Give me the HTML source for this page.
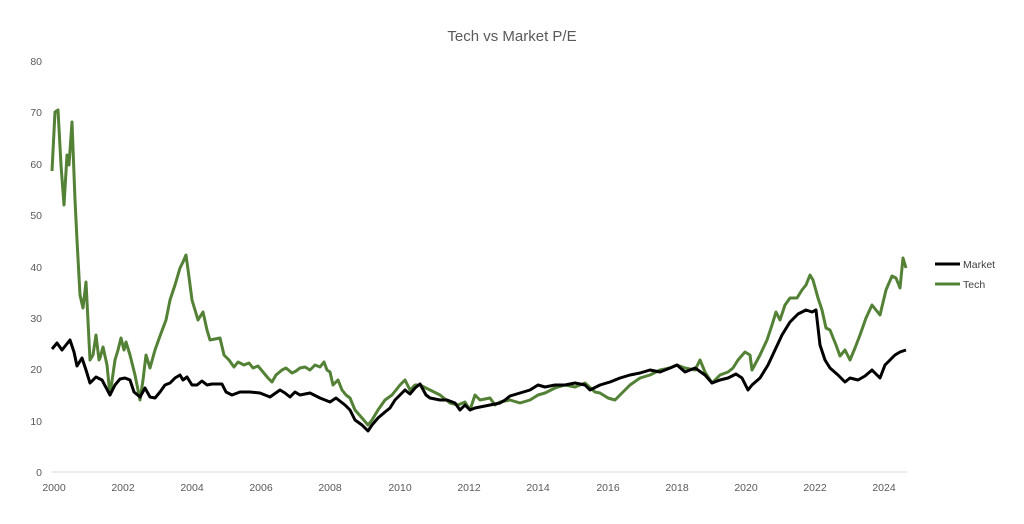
<!DOCTYPE html>
<html><head><meta charset="utf-8"><style>
body{margin:0;background:#fff;}
svg{display:block;font-family:"Liberation Sans",sans-serif;}
</style></head><body>
<svg width="1024" height="524" viewBox="0 0 1024 524">
<text x="512" y="41" text-anchor="middle" font-size="15" fill="#595959">Tech vs Market P/E</text>
<g font-size="10.5" fill="#595959" text-anchor="end">
<text x="42" y="476">0</text><text x="42" y="425">10</text><text x="42" y="373">20</text><text x="42" y="322">30</text>
<text x="42" y="271">40</text><text x="42" y="219">50</text><text x="42" y="168">60</text><text x="42" y="116">70</text><text x="42" y="65">80</text>
</g>
<line x1="52" y1="472" x2="907" y2="472" stroke="#d9d9d9" stroke-width="1"/>
<g font-size="10.5" fill="#595959" text-anchor="middle">
<text x="54" y="491">2000</text><text x="123" y="491">2002</text><text x="192" y="491">2004</text><text x="261" y="491">2006</text>
<text x="330" y="491">2008</text><text x="400" y="491">2010</text><text x="469" y="491">2012</text><text x="538" y="491">2014</text>
<text x="608" y="491">2016</text><text x="677" y="491">2018</text><text x="746" y="491">2020</text><text x="815" y="491">2022</text><text x="884" y="491">2024</text>
</g>
<polyline fill="none" stroke="#538135" stroke-width="3" stroke-linejoin="round" points="52,171 55,112 58,110 61,165 64,205 67,155 69,165 72,122 75,200 77,240 80,295 83,308 86,282 90,360 93,355 96,335 99,360 100,358 103,347 107,365 110,395 115,360 118,350 121,338 124,350 126,342 130,355 135,375 140,400 143,380 146,355 150,368 155,350 160,336 166,320 170,300 175,285 180,268 183,262 186,255 189,277 192,300 195,310 198,320 203,312 207,330 210,340 220,338 224,355 229,360 234,367 238,362 244,365 249,363 253,368 258,366 263,372 268,378 272,382 276,375 282,370 286,368 292,373 296,371 300,368 305,367 310,370 315,365 320,367 324,362 327,370 330,372 333,385 338,380 342,390 346,395 350,398 355,410 362,418 368,425 372,420 378,410 385,400 392,395 400,385 405,380 410,390 415,385 420,385 430,390 440,395 450,403 458,405 465,402 470,410 475,395 480,400 490,398 495,405 500,402 510,400 520,403 530,400 538,395 545,393 555,388 565,385 575,387 585,383 595,392 600,393 608,398 615,400 620,395 630,385 640,378 650,375 660,370 670,368 677,365 685,368 695,370 700,360 705,372 712,383 720,375 728,372 733,368 738,360 745,352 750,355 752,370 760,355 767,340 772,325 776,312 780,320 785,305 790,298 797,298 802,290 806,285 810,275 813,280 818,298 822,310 826,328 830,330 836,345 840,356 845,350 850,360 855,348 860,335 866,318 872,305 876,310 880,315 886,290 892,276 896,278 900,288 903,258 906,268"/>
<polyline fill="none" stroke="#000" stroke-width="3" stroke-linejoin="round" points="52,349 57,343 62,350 66,345 70,340 74,352 77,366 82,358 86,370 90,383 96,377 102,380 110,395 115,385 120,379 125,378 130,380 134,392 140,397 145,388 150,397 155,398 160,392 165,385 170,383 175,378 180,375 183,380 187,377 192,385 197,385 202,381 207,385 212,384 222,384 226,392 232,395 240,392 250,392 260,393 270,397 280,390 285,393 290,397 295,392 300,395 310,393 320,398 330,402 336,398 345,405 350,410 355,420 362,425 368,431 372,425 378,418 385,412 390,408 395,400 400,395 405,390 410,394 415,388 420,384 426,395 430,398 440,400 447,400 455,403 460,410 465,405 470,410 475,408 480,407 490,405 500,403 505,400 510,396 520,393 530,390 538,385 545,387 555,385 565,385 575,383 585,385 590,390 600,385 610,382 620,378 630,375 640,373 650,370 660,372 670,368 677,365 685,372 695,368 705,375 712,383 720,380 728,378 736,374 742,378 748,390 752,385 760,378 768,365 775,350 782,335 790,322 798,314 806,310 812,312 816,310 820,345 825,360 830,368 838,375 845,382 850,378 858,380 865,376 872,370 880,378 885,365 890,360 895,355 900,352 906,350"/>
<line x1="935" y1="264" x2="960" y2="264" stroke="#000" stroke-width="3"/>
<line x1="935" y1="284" x2="960" y2="284" stroke="#538135" stroke-width="3"/>
<text x="963" y="268" font-size="10.5" fill="#404040">Market</text>
<text x="963" y="288" font-size="10.5" fill="#404040">Tech</text>
</svg>
</body></html>
